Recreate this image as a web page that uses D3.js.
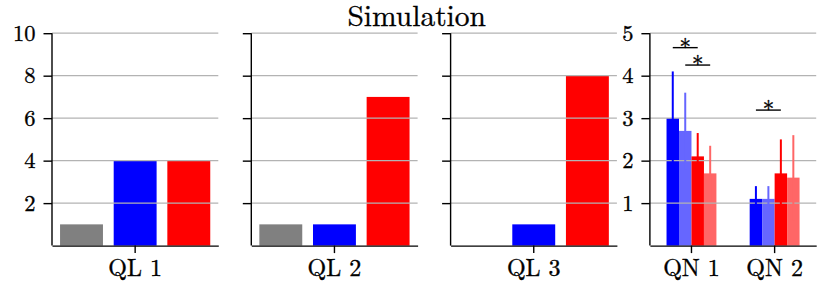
<!DOCTYPE html>
<html>
<head>
<meta charset="utf-8">
<script src="https://cdn.jsdelivr.net/npm/d3@7"></script>
<style>
  html, body { margin: 0; padding: 0; background: #fff; }
  svg { display: block; }
  svg text { stroke: #000; stroke-width: 0.35px; fill: #000; }
  .grid line { stroke: #b3b3b3; stroke-width: 1.3; }
  .axis path, .axis line { stroke: #000; stroke-width: 1.4; }
</style>
</head>
<body>
<svg id="chart" width="830" height="285"></svg>
<script>
// Simulation panels: three qualitative (QL) bar groups + one quantitative (QN) group with error bars.
const FONT = "'Latin Modern Roman', 'Liberation Serif', serif";
const title = "Simulation";

const qlCats = ["QL 1", "QL 2", "QL 3"];
const qlConds = ["gray", "blue", "red"];
const qlGray = [1, 1, 0];
const qlBlue = [4, 1, 1];
const qlRed = [4, 7, 8];
const qlTicks = [2, 4, 6, 8, 10];

const qnCats = ["QN 1", "QN 2"];
const qnSeries = ["blue", "lightBlue", "red", "lightRed"];
const qnBlue = [3.0, 1.1];
const qnLightBlue = [2.7, 1.1];
const qnRed = [2.1, 1.7];
const qnLightRed = [1.7, 1.6];
const qnBlueErr = [1.1, 0.3];
const qnLightBlueErr = [0.9, 0.3];
const qnRedErr = [0.55, 0.8];
const qnLightRedErr = [0.65, 1.0];
const qnTicks = [1, 2, 3, 4, 5];
// significance bars: category, from series, to series, height
const sig = [
  { cat: "QN 1", from: "blue", to: "red", y: 4.66 },
  { cat: "QN 1", from: "lightBlue", to: "lightRed", y: 4.25 },
  { cat: "QN 2", from: "blue", to: "red", y: 3.19 }
];

const colors = {
  gray: "#808080", blue: "#0000ff", red: "#ff0000",
  lightBlue: "#6666ff", lightRed: "#ff6666"
};

const svg = d3.select("#chart");
const yTop = 33.2, yBottom = 245.6, panelW = 166.3, gap = 199.3, left0 = 52;

svg.append("text").attr("x", 416.7).attr("y", 25.5).attr("text-anchor", "middle")
  .style("font-family", FONT).style("font-size", "29.5px").text(title);

function yAxis(g, y, ticks, px, labels) {
  g.attr("class", "axis").attr("transform", `translate(${px},0)`)
    .call(d3.axisLeft(y).tickValues(ticks).tickSize(8.5).tickSizeOuter(0).tickPadding(8)
      .tickFormat(labels ? d3.format("d") : ""))
    .call(a => a.select(".domain").attr("d", `M0,${yBottom}V${yTop}`))
    .selectAll("text").style("font-family", FONT).style("font-size", "22.5px");
}

function grid(g, y, ticks, a, b) {
  g.attr("class", "grid").selectAll("line").data(ticks).join("line")
    .attr("x1", a).attr("x2", b).attr("y1", d => y(d)).attr("y2", d => y(d));
}

function xAxis(g, xc) {
  g.attr("class", "axis").attr("transform", `translate(0,${yBottom})`)
    .call(d3.axisBottom(xc).tickSize(7.5).tickSizeOuter(0).tickPadding(6))
    .selectAll("text").style("font-family", FONT).style("font-size", "24px");
}

// QL panels
const qlVals = { gray: qlGray, blue: qlBlue, red: qlRed };
const yQL = d3.scaleLinear().domain([0, 10]).range([yBottom, yTop]);
qlCats.forEach((cat, i) => {
  const a = left0 + i * gap, b = a + panelW;
  const xc = d3.scaleBand().domain([cat]).range([a, b]);
  const xb = d3.scaleBand().domain(qlConds).range([a, b]).paddingInner(0.2).paddingOuter(0.15);
  svg.append("g").selectAll("rect").data(qlConds).join("rect")
    .attr("x", c => xb(c)).attr("width", xb.bandwidth())
    .attr("y", c => yQL(qlVals[c][i])).attr("height", c => yQL(0) - yQL(qlVals[c][i]))
    .attr("fill", c => colors[c]);
  grid(svg.append("g"), yQL, qlTicks, a, b);
  yAxis(svg.append("g"), yQL, qlTicks, a, i === 0);
  xAxis(svg.append("g"), xc);
});

// QN panel
const qnVals = { blue: qnBlue, lightBlue: qnLightBlue, red: qnRed, lightRed: qnLightRed };
const qnErrs = { blue: qnBlueErr, lightBlue: qnLightBlueErr, red: qnRedErr, lightRed: qnLightRedErr };
const qnLeft = left0 + 3 * gap, qnRight = qnLeft + panelW;
const yQN = d3.scaleLinear().domain([0, 5]).range([yBottom, yTop]);
const xQN = d3.scaleBand().domain(qnCats).range([qnLeft, qnRight]);
const xs = d3.scaleBand().domain(qnSeries).range([xQN.bandwidth() * 0.2, xQN.bandwidth() * 0.8]);
const cx = (cat, s) => xQN(cat) + xs(s) + xs.bandwidth() / 2;
const pts = qnCats.flatMap((cat, i) => qnSeries.map(s => ({ cat, s, v: qnVals[s][i], e: qnErrs[s][i] })));

svg.append("g").selectAll("rect").data(pts).join("rect")
  .attr("x", d => xQN(d.cat) + xs(d.s)).attr("width", xs.bandwidth())
  .attr("y", d => yQN(d.v)).attr("height", d => yQN(0) - yQN(d.v))
  .attr("fill", d => colors[d.s]);
grid(svg.append("g"), yQN, qnTicks, qnLeft, qnRight);
svg.append("g").selectAll("line").data(pts).join("line")
  .attr("x1", d => cx(d.cat, d.s)).attr("x2", d => cx(d.cat, d.s))
  .attr("y1", d => yQN(d.v - d.e)).attr("y2", d => yQN(d.v + d.e))
  .attr("stroke", d => colors[d.s]).attr("stroke-width", 2);

const sg = svg.append("g");
sig.forEach(s => {
  const a = cx(s.cat, s.from), b = cx(s.cat, s.to);
  sg.append("line").attr("x1", a).attr("x2", b).attr("y1", yQN(s.y)).attr("y2", yQN(s.y))
    .attr("stroke", "#000").attr("stroke-width", 1.4);
  sg.append("text").attr("x", (a + b) / 2).attr("y", yQN(s.y) + 7).attr("text-anchor", "middle")
    .style("font-family", FONT).style("font-size", "23px").text("*");
});

yAxis(svg.append("g"), yQN, qnTicks, qnLeft, true);
xAxis(svg.append("g"), xQN);
</script>
</body>
</html>
